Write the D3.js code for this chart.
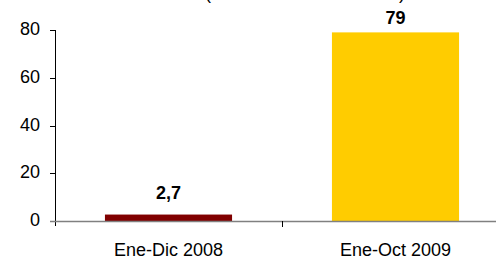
<!DOCTYPE html>
<html lang="es">
<head>
  <meta charset="utf-8">
  <title>Chart</title>
  <script src="https://d3js.org/d3.v7.min.js"></script>
  <style>
    body { margin: 0; background: #fff; }
    text { font-family: "Liberation Sans", Arial, sans-serif; }
  </style>
</head>
<body>
  <div id="chart"></div>
  <script>
    var categories = ['Ene-Dic 2008', 'Ene-Oct 2009'];
    var values = [2.7, 79];
    var labels = ['2,7', '79'];
    var colors = ['#800000', '#FFCC00'];
    var yTicks = [0, 20, 40, 60, 80];

    var w = 496, h = 260;
    var svg = d3.select('#chart').append('svg')
      .attr('width', w).attr('height', h);

    var x = d3.scaleBand().domain(categories).range([55, 509]);
    var y = d3.scaleLinear().domain([0, 80]).range([221, 30]);
    var barFrac = 0.56;

    // title, mostly above the visible area
    svg.append('text')
      .attr('x', 305).attr('y', -1)
      .attr('text-anchor', 'middle')
      .attr('font-size', 18)
      .attr('textLength', 200)
      .text('(Millones de dólares)');

    // y axis
    svg.append('line')
      .attr('x1', 55.5).attr('x2', 55.5)
      .attr('y1', y(80)).attr('y2', y(0) + 5)
      .attr('stroke', '#000').attr('stroke-width', 1);
    svg.selectAll('.ytick').data(yTicks).enter().append('line')
      .attr('x1', 50).attr('x2', 55)
      .attr('y1', function(d){ return Math.round(y(d)) + 0.5; })
      .attr('y2', function(d){ return Math.round(y(d)) + 0.5; })
      .attr('stroke', '#000');
    svg.selectAll('.ylab').data(yTicks).enter().append('text')
      .attr('x', 40)
      .attr('y', function(d){ return y(d) + 5; })
      .attr('text-anchor', 'end')
      .attr('font-size', 18)
      .text(function(d){ return d; });

    // bars
    svg.selectAll('.bar').data(values).enter().append('rect')
      .attr('x', function(d, i){ return x(categories[i]) + x.bandwidth() * (1 - barFrac) / 2; })
      .attr('width', x.bandwidth() * barFrac)
      .attr('y', function(d){ return y(d); })
      .attr('height', function(d){ return y(0) - y(d); })
      .attr('fill', function(d, i){ return colors[i]; });

    // value labels
    svg.selectAll('.vlab').data(values).enter().append('text')
      .attr('x', function(d, i){ return x(categories[i]) + x.bandwidth() / 2; })
      .attr('y', function(d){ return Math.max(y(d) - 16, 24); })
      .attr('text-anchor', 'middle')
      .attr('font-size', 18)
      .attr('font-weight', 'bold')
      .text(function(d, i){ return labels[i]; });

    // x axis
    svg.append('line')
      .attr('x1', 50).attr('x2', w)
      .attr('y1', y(0) + 0.5).attr('y2', y(0) + 0.5)
      .attr('stroke', '#808080').attr('stroke-width', 1.5);
    svg.selectAll('.xtick').data(categories.slice(1)).enter().append('line')
      .attr('x1', function(d){ return Math.round(x(d)) + 0.5; })
      .attr('x2', function(d){ return Math.round(x(d)) + 0.5; })
      .attr('y1', y(0)).attr('y2', y(0) + 6)
      .attr('stroke', '#000');
    svg.selectAll('.xlab').data(categories).enter().append('text')
      .attr('x', function(d){ return x(d) + x.bandwidth() / 2; })
      .attr('y', 256)
      .attr('text-anchor', 'middle')
      .attr('font-size', 18)
      .text(function(d){ return d; });
  </script>
</body>
</html>
